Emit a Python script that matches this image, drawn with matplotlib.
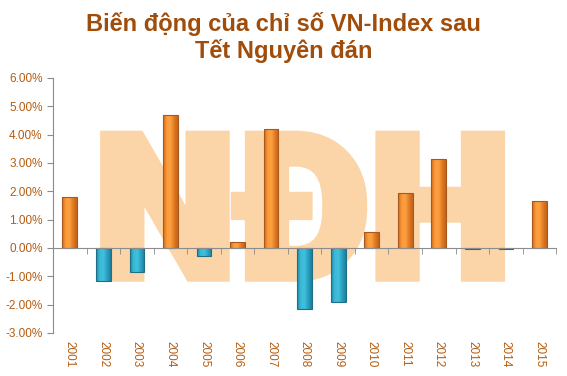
import matplotlib
matplotlib.use("Agg")
import matplotlib.pyplot as plt
import numpy as np
from matplotlib.ticker import FuncFormatter
from matplotlib.textpath import TextPath
from matplotlib.font_manager import FontProperties
from matplotlib.patches import PathPatch
from matplotlib.transforms import Affine2D
from matplotlib.colors import LinearSegmentedColormap

years = ["2001", "2002", "2003", "2004", "2005", "2006", "2007", "2008",
         "2009", "2010", "2011", "2012", "2013", "2014", "2015"]
changes = [1.80, -1.15, -0.85, 4.70, -0.30, 0.22, 4.20, -2.15,
           -1.90, 0.58, 1.95, 3.15, -0.03, -0.03, 1.67]
yticks = [-3, -2, -1, 0, 1, 2, 3, 4, 5, 6]
title = "Biến động của chỉ số VN-Index sau\nTết Nguyên đán"

plt.rcParams['font.family'] = ['Liberation Sans', 'DejaVu Sans']

fig = plt.figure(figsize=(5.67, 3.76), dpi=100)
ax = fig.add_axes([0.0935, 0.1144, 0.8875, 0.6782])

ax.set_xlim(-0.5, len(years) - 0.5)
ax.set_ylim(-3, 6)

# watermark "NĐH" fitted to a box, thickened with a stroke
fp = FontProperties(family=['Roboto', 'Lato', 'DejaVu Sans'], weight='black')
tp = TextPath((0, 0), "NĐH", size=1, prop=fp)
bb = tp.get_extents()
x0, x1, y0, y1 = 1.05, 12.83, -1.02, 3.97
tr = Affine2D().translate(-bb.x0, -bb.y0).scale((x1 - x0) / bb.width, (y1 - y0) / bb.height).translate(x0, y0)
wpath = tr.transform_path(tp)
wm = PathPatch(wpath, facecolor='#fbd5a7', edgecolor='#fbd5a7', linewidth=7,
               joinstyle='miter', zorder=1)
ax.add_patch(wm)

x = np.arange(len(years))
edge = ['#a8581c' if v >= 0 else '#1f6f86' for v in changes]
bars = ax.bar(x, changes, width=0.44, facecolor='none', edgecolor=edge, linewidth=0.8, zorder=4)

pos_cmap = LinearSegmentedColormap.from_list('p', ['#d0691a', '#fb9a38', '#fca044', '#e07a20', '#c4621a'])
neg_cmap = LinearSegmentedColormap.from_list('n', ['#1f88a6', '#3cbad8', '#40c0dc', '#2aa0c0', '#1c7f9c'])
grad = np.linspace(0, 1, 64).reshape(1, -1)
for b, v in zip(bars, changes):
    bx, by = b.get_x(), b.get_y()
    w, h = b.get_width(), b.get_height()
    im = ax.imshow(grad, cmap=pos_cmap if v >= 0 else neg_cmap, aspect='auto',
                   extent=[bx, bx + w, by, by + h], zorder=3.5, interpolation='bilinear')
    im.set_clip_path(b)
ax.set_xlim(-0.5, len(years) - 0.5)
ax.set_ylim(-3, 6)

ax.set_yticks(yticks)
ax.yaxis.set_major_formatter(FuncFormatter(lambda v, p: f"{v:.2f}%"))

txtcol = '#b45c10'
ax.spines['top'].set_visible(False)
ax.spines['right'].set_visible(False)
ax.spines['left'].set_color('#8c8c8c')
ax.spines['bottom'].set_color('#8c8c8c')
ax.spines['bottom'].set_position(('data', 0))
ax.spines['bottom'].set_zorder(5)

ax.set_xticks(x)
ax.set_xticklabels(years, rotation=270, fontsize=8.5, color=txtcol)
ax.set_xticks(np.arange(-0.5, len(years)), minor=True)
ax.tick_params(axis='x', which='major', length=0, pad=67)
ax.tick_params(axis='x', which='minor', length=4, direction='out', color='#8c8c8c')
ax.tick_params(axis='y', length=4, color='#8c8c8c', labelsize=8.5, labelcolor=txtcol)

fig.text(0.5, 0.9, title, ha='center', va='center', fontsize=17,
         fontweight='bold', color='#a04c0a', linespacing=1.15)

fig.savefig("out.png", dpi=100)
